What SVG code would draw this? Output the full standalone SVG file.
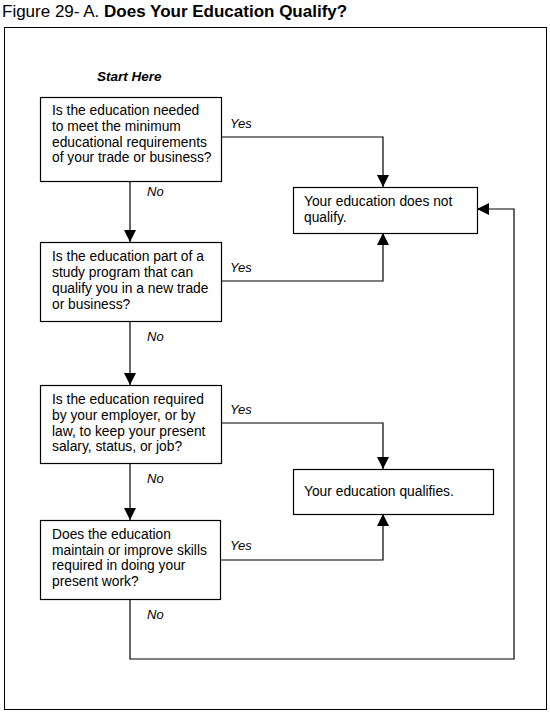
<svg xmlns="http://www.w3.org/2000/svg" width="550" height="715" viewBox="0 0 550 715">
<defs>
<marker id="ah" markerUnits="userSpaceOnUse" markerWidth="12" markerHeight="12" viewBox="0 0 12 12" refX="12" refY="6" orient="auto">
<path d="M0,0 L12,6 L0,12 Z" fill="#000"/>
</marker>
</defs>
<style>
.box{fill:#fff;stroke:#000;stroke-width:1.2}
.t{font-family:"Liberation Sans",Arial,sans-serif;font-size:13.8px;fill:#000}
.lbl{font-family:"Liberation Sans",Arial,sans-serif;font-size:13px;font-style:italic;fill:#000}
.c{fill:none;stroke:#000;stroke-width:1.2}
</style>
<rect width="550" height="715" fill="#fff"/>
<text x="2" y="17" font-family="'Liberation Sans',Arial,sans-serif" font-size="17">Figure 29- A. <tspan font-weight="bold">Does Your Education Qualify?</tspan></text>
<rect x="4.5" y="27.5" width="542" height="682" fill="none" stroke="#000" stroke-width="1"/>
<text x="97" y="81" font-family="'Liberation Sans',Arial,sans-serif" font-size="13.5" font-weight="bold" font-style="italic">Start Here</text>
<g id="connectors">
<path class="c" d="M130,181 V242" marker-end="url(#ah)"/>
<path class="c" d="M130,321 V385" marker-end="url(#ah)"/>
<path class="c" d="M130,463 V520" marker-end="url(#ah)"/>
<path class="c" d="M221,137 H383 V187" marker-end="url(#ah)"/>
<path class="c" d="M221,281 H383 V233" marker-end="url(#ah)"/>
<path class="c" d="M221,423 H383 V469" marker-end="url(#ah)"/>
<path class="c" d="M221,560 H383 V514" marker-end="url(#ah)"/>
<path class="c" d="M130,599 V659 H514 V209 H477" marker-end="url(#ah)"/>
<text class="lbl" x="230" y="128">Yes</text>
<text class="lbl" x="230" y="272">Yes</text>
<text class="lbl" x="230" y="414">Yes</text>
<text class="lbl" x="230" y="550">Yes</text>
<text class="lbl" x="147" y="196">No</text>
<text class="lbl" x="147" y="341">No</text>
<text class="lbl" x="147" y="483">No</text>
<text class="lbl" x="147" y="619">No</text>
</g>
<g id="q1">
<rect class="box" x="40.5" y="97.5" width="181" height="84"/>
<text class="t"><tspan x="52" y="115">Is the education needed</tspan><tspan x="52" y="131">to meet the minimum</tspan><tspan x="52" y="147">educational requirements</tspan><tspan x="52" y="162">of your trade or business?</tspan></text>
</g>
<g id="q2">
<rect class="box" x="40.5" y="242.5" width="181" height="79"/>
<text class="t"><tspan x="52" y="261">Is the education part of a</tspan><tspan x="52" y="277">study program that can</tspan><tspan x="52" y="293">qualify you in a new trade</tspan><tspan x="52" y="309">or business?</tspan></text>
</g>
<g id="q3">
<rect class="box" x="40.5" y="385.5" width="181" height="78"/>
<text class="t"><tspan x="52" y="404">Is the education required</tspan><tspan x="52" y="420">by your employer, or by</tspan><tspan x="52" y="436">law, to keep your present</tspan><tspan x="52" y="451">salary, status, or job?</tspan></text>
</g>
<g id="q4">
<rect class="box" x="40.5" y="520.5" width="180" height="79"/>
<text class="t"><tspan x="52" y="539">Does the education</tspan><tspan x="52" y="555">maintain or improve skills</tspan><tspan x="52" y="570">required in doing your</tspan><tspan x="52" y="586">present work?</tspan></text>
</g>
<g id="notqualify">
<rect class="box" x="293.5" y="187.5" width="184" height="46"/>
<text class="t"><tspan x="304" y="206">Your education does not</tspan><tspan x="304" y="222">qualify.</tspan></text>
</g>
<g id="qualifies">
<rect class="box" x="293.5" y="469.5" width="200" height="45"/>
<text class="t" x="304" y="496">Your education qualifies.</text>
</g>
</svg>
